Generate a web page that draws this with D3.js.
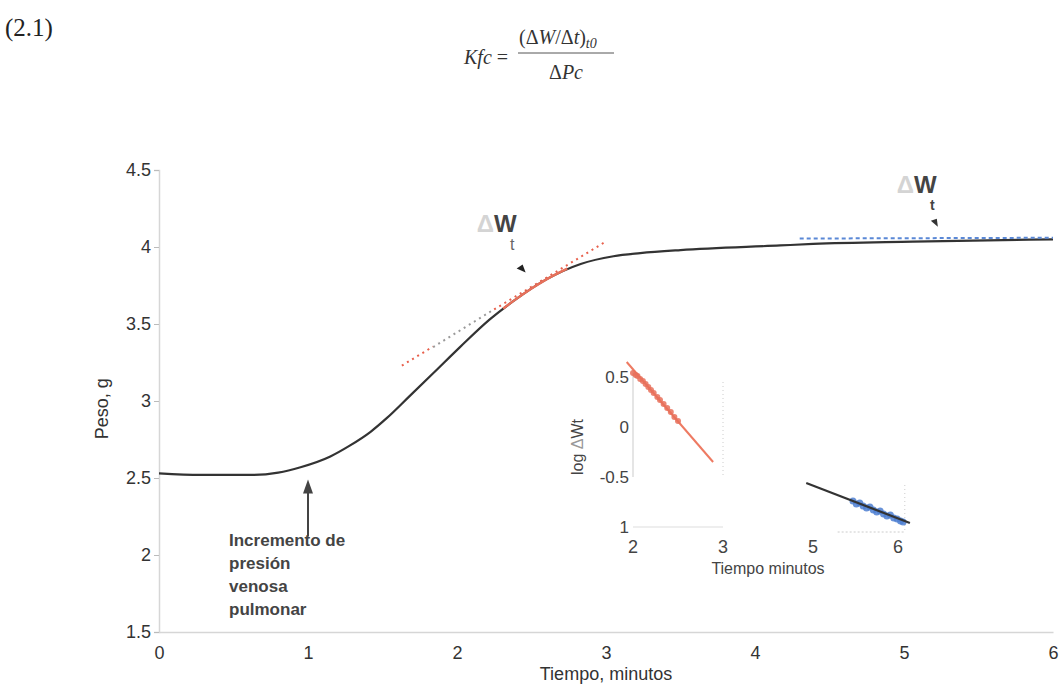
<!DOCTYPE html>
<html>
<head>
<meta charset="utf-8">
<script src="https://cdn.jsdelivr.net/npm/d3@7"></script>
<style>
  body { margin: 0; background: #fff; }
  svg { display: block; }
  .tick text { fill: #333; }
</style>
</head>
<body>
<div id="chart"></div>
<script>
// main curve: peso (g) vs tiempo (min)
var timeMin = [0, 0.28, 0.63, 0.80, 0.95, 1.15, 1.28, 1.42, 1.53, 1.68, 1.84, 2.02, 2.22, 2.38, 2.60, 2.83, 3.05, 3.23, 3.50, 4.17, 4.39, 5.06, 6.0];
var peso    = [2.53, 2.52, 2.52, 2.535, 2.57, 2.64, 2.71, 2.80, 2.89, 3.03, 3.18, 3.35, 3.53, 3.65, 3.79, 3.89, 3.94, 3.96, 3.98, 4.01, 4.02, 4.035, 4.05];

// red part of the curve and its dotted tangent
var redT = [2.31, 2.38, 2.50, 2.60, 2.74];
var redV = [3.60, 3.65, 3.73, 3.79, 3.86];
var tangentT = [1.63, 2.99];
var tangentV = [3.23, 4.03];
var greyT = [1.84, 2.24];
var greyV = [3.35, 3.59];

// blue dotted plateau
var plateauT = [4.30, 6.0];
var plateauV = [4.055, 4.06];

var xTicks = [0, 1, 2, 3, 4, 5, 6];
var yTicks = [1.5, 2, 2.5, 3, 3.5, 4, 4.5];

// inset: log dW vs tiempo
var insRedLineT = [1.93, 2.89];
var insRedLineV = [0.65, -0.35];
var insRedT = [2.00, 2.03, 2.05, 2.08, 2.11, 2.14, 2.17, 2.20, 2.23, 2.27, 2.30, 2.34, 2.38, 2.42, 2.46, 2.50];
var insRedV = [0.54, 0.52, 0.51, 0.48, 0.46, 0.43, 0.40, 0.37, 0.34, 0.30, 0.27, 0.23, 0.19, 0.15, 0.10, 0.06];
var insBlackT = [4.85, 6.14];
var insBlackV = [-0.56, -0.96];
var insBlueT = [5.47, 5.51, 5.55, 5.59, 5.63, 5.67, 5.71, 5.75, 5.79, 5.83, 5.87, 5.91, 5.95, 5.99, 6.03, 6.06];
var insBlueV = [-0.74, -0.77, -0.76, -0.79, -0.81, -0.80, -0.83, -0.85, -0.84, -0.87, -0.89, -0.88, -0.91, -0.92, -0.94, -0.95];
var insXTicks = [2, 3, 5, 6];
var insYTicks = [0.5, 0, -0.5, -1];
var insYLabels = ["0.5", "0", "-0.5", "1"];

var svgWidth = 1064;
var svgHeight = 685;
var sans = "'Liberation Sans', Arial, sans-serif";
var serif = "'Liberation Serif', 'Times New Roman', serif";

var svg = d3.select("#chart").append("svg")
    .attr("width", svgWidth)
    .attr("height", svgHeight);

//scales
var x = d3.scaleLinear().domain([0, 6]).range([159, 1053]);
var y = d3.scaleLinear().domain([1.5, 4.5]).range([632, 170]);
var xi = d3.scaleLinear().domain([2, 3, 5, 6]).range([633, 723, 813, 898]);
var yi = d3.scaleLinear().domain([-1, 0.5]).range([527, 377]);

function pairs(a, b) { return a.map(function(d, i) { return [d, b[i]]; }); }

//equation
svg.append("text").attr("x", 5).attr("y", 36)
    .style("font-family", serif).style("font-size", "25px").attr("fill", "#222")
    .text("(2.1)");
var eq = svg.append("g").style("font-family", serif).attr("fill", "#333");
eq.append("text").attr("x", 464).attr("y", 64).style("font-size", "20px")
    .html("<tspan font-style='italic'>Kfc</tspan> =");
eq.append("text").attr("x", 519).attr("y", 44).style("font-size", "20px")
    .html("(Δ<tspan font-style='italic'>W</tspan>/Δ<tspan font-style='italic'>t</tspan>)<tspan font-style='italic' font-size='14px' dy='4'>t0</tspan>");
eq.append("line").attr("x1", 518).attr("x2", 614).attr("y1", 53).attr("y2", 53)
    .attr("stroke", "#555").attr("stroke-width", 1);
eq.append("text").attr("x", 566).attr("y", 79).attr("text-anchor", "middle").style("font-size", "20px")
    .html("Δ<tspan font-style='italic'>Pc</tspan>");

//axes
var leftAxis = d3.axisLeft(y).tickValues(yTicks).tickSize(5).tickPadding(3)
    .tickFormat(d3.format(""));
var gy = svg.append("g").attr("transform", "translate(" + x(0) + ",0)").call(leftAxis);
var bottomAxis = d3.axisBottom(x).tickValues(xTicks).tickSize(0).tickPadding(14)
    .tickFormat(d3.format("d"));
var gx = svg.append("g").attr("transform", "translate(0," + y(1.5) + ")").call(bottomAxis);
[gx, gy].forEach(function(g) {
    g.select(".domain").attr("stroke", "#d6d6d6").attr("stroke-width", 1.5);
    g.selectAll(".tick line").attr("stroke", "#bbb");
    g.selectAll(".tick text").style("font-family", sans).style("font-size", "18px");
});

svg.append("text")
    .attr("transform", "translate(108," + y(2.95) + ") rotate(-90)")
    .attr("text-anchor", "middle")
    .style("font-family", sans).style("font-size", "18px").attr("fill", "#333")
    .text("Peso, g");
svg.append("text")
    .attr("x", x(3)).attr("y", 680).attr("text-anchor", "middle")
    .style("font-family", sans).style("font-size", "18px").attr("fill", "#333")
    .text("Tiempo, minutos");

//tangent lines
var line = d3.line().x(d => x(d[0])).y(d => y(d[1]));
svg.append("path").datum(pairs(tangentT, tangentV)).attr("d", line)
    .attr("fill", "none").attr("stroke", "#e8604c").attr("stroke-width", 2)
    .attr("stroke-dasharray", "2,4");
svg.append("path").datum(pairs(greyT, greyV)).attr("d", line)
    .attr("fill", "none").attr("stroke", "#fff").attr("stroke-width", 4);
svg.append("path").datum(pairs(greyT, greyV)).attr("d", line)
    .attr("fill", "none").attr("stroke", "#999").attr("stroke-width", 2)
    .attr("stroke-dasharray", "2,4");

//main curve
var curve = d3.line().x(d => x(d[0])).y(d => y(d[1])).curve(d3.curveMonotoneX);
svg.append("path").datum(pairs(timeMin, peso)).attr("d", curve)
    .attr("fill", "none").attr("stroke", "#333").attr("stroke-width", 2.2);
svg.append("path").datum(pairs(redT, redV)).attr("d", curve)
    .attr("fill", "none").attr("stroke", "#e8705a").attr("stroke-width", 2.4);
svg.append("path").datum(pairs(plateauT, plateauV)).attr("d", line)
    .attr("fill", "none").attr("stroke", "#5a88d6").attr("stroke-width", 2)
    .attr("stroke-dasharray", "4,3");

//dW labels
function dwLabel(t, v, size) {
    var g = svg.append("g").style("font-family", sans);
    g.append("text").attr("x", x(t)).attr("y", y(v)).attr("text-anchor", "end")
        .style("font-size", size + "px").style("font-weight", "bold")
        .html("<tspan fill='#d4d4d4'>Δ</tspan><tspan fill='#444'>W</tspan>");
    return g;
}
var l1 = dwLabel(2.40, 4.10, 24);
l1.append("text").attr("x", x(2.37)).attr("y", y(3.98)).attr("text-anchor", "middle")
    .style("font-size", "16px").attr("fill", "#666").text("t");
l1.append("path")
    .attr("d", "M" + x(2.40) + "," + y(3.86) + " l9,4 l-3,-8 z")
    .attr("fill", "#222");
var l2 = dwLabel(5.22, 4.35, 24);
l2.append("text").attr("x", x(5.19)).attr("y", y(4.24)).attr("text-anchor", "middle")
    .style("font-size", "14px").style("font-weight", "bold").attr("fill", "#444").text("t");
l2.append("path")
    .attr("d", "M" + x(5.18) + "," + y(4.17) + " l7,6 l-1,-8 z")
    .attr("fill", "#333");

//annotation arrow
svg.append("line").attr("x1", x(1.0)).attr("x2", x(1.0)).attr("y1", y(2.12)).attr("y2", y(2.42))
    .attr("stroke", "#444").attr("stroke-width", 2);
svg.append("path")
    .attr("d", "M" + x(1.0) + "," + y(2.49) + " l-5,14 l10,0 z")
    .attr("fill", "#444");
var note = svg.append("text").style("font-family", sans).style("font-size", "17px")
    .style("font-weight", "bold").attr("fill", "#444");
["Incremento de", "presión", "venosa", "pulmonar"].forEach(function(s, i) {
    note.append("tspan").attr("x", 229).attr("y", 546 + i * 23).text(s);
});

//inset
var ins = svg.append("g");
ins.append("line").attr("x1", xi(2)).attr("x2", xi(2)).attr("y1", yi(0.58)).attr("y2", yi(-0.5))
    .attr("stroke", "#ddd").attr("stroke-width", 1.5);
ins.append("line").attr("x1", xi(3)).attr("x2", xi(3)).attr("y1", yi(0.45)).attr("y2", yi(-0.5))
    .attr("stroke", "#ccc").attr("stroke-dasharray", "1,3");
ins.append("line").attr("x1", xi(2)).attr("x2", xi(3)).attr("y1", yi(-1)).attr("y2", yi(-1))
    .attr("stroke", "#eee").attr("stroke-width", 2);
ins.append("line").attr("x1", xi(5.29)).attr("x2", xi(6.08)).attr("y1", yi(-1.05)).attr("y2", yi(-1.05))
    .attr("stroke", "#ccc").attr("stroke-dasharray", "2,2");
ins.append("line").attr("x1", xi(6.08)).attr("x2", xi(6.08)).attr("y1", yi(-0.58)).attr("y2", yi(-1.05))
    .attr("stroke", "#ccc").attr("stroke-dasharray", "1,3");

ins.selectAll(".iy").data(insYTicks).enter().append("text")
    .attr("x", xi(2) - 4).attr("y", d => yi(d)).attr("dy", "0.35em").attr("text-anchor", "end")
    .style("font-family", sans).style("font-size", "17px").attr("fill", "#444")
    .text((d, i) => insYLabels[i]);
ins.selectAll(".ix").data(insXTicks).enter().append("text")
    .attr("x", d => xi(d)).attr("y", 553).attr("text-anchor", "middle")
    .style("font-family", sans).style("font-size", "18px").attr("fill", "#444")
    .text(d => d);
ins.append("text").attr("x", xi(4)).attr("y", 574).attr("text-anchor", "middle")
    .style("font-family", sans).style("font-size", "16px").attr("fill", "#444")
    .text("Tiempo  minutos");
ins.append("text").attr("transform", "translate(583," + yi(-0.2) + ") rotate(-90)")
    .attr("text-anchor", "middle")
    .style("font-family", sans).style("font-size", "16px").attr("fill", "#444")
    .html("log <tspan fill='#999'>Δ</tspan>Wt");

var iline = d3.line().x(d => xi(d[0])).y(d => yi(d[1]));
ins.append("path").datum(pairs(insRedLineT, insRedLineV)).attr("d", iline)
    .attr("stroke", "#ee7a62").attr("stroke-width", 2).attr("fill", "none");
ins.selectAll(".rd").data(pairs(insRedT, insRedV)).enter().append("circle")
    .attr("cx", d => xi(d[0])).attr("cy", d => yi(d[1])).attr("r", 3)
    .attr("fill", "#e8705a").attr("opacity", 0.85);
ins.selectAll(".bd").data(pairs(insBlueT, insBlueV)).enter().append("circle")
    .attr("cx", d => xi(d[0])).attr("cy", d => yi(d[1])).attr("r", 3.5)
    .attr("fill", "#4d7fd1").attr("opacity", 0.85);
ins.append("path").datum(pairs(insBlackT, insBlackV)).attr("d", iline)
    .attr("stroke", "#333").attr("stroke-width", 2.2).attr("fill", "none");
</script>
</body>
</html>
